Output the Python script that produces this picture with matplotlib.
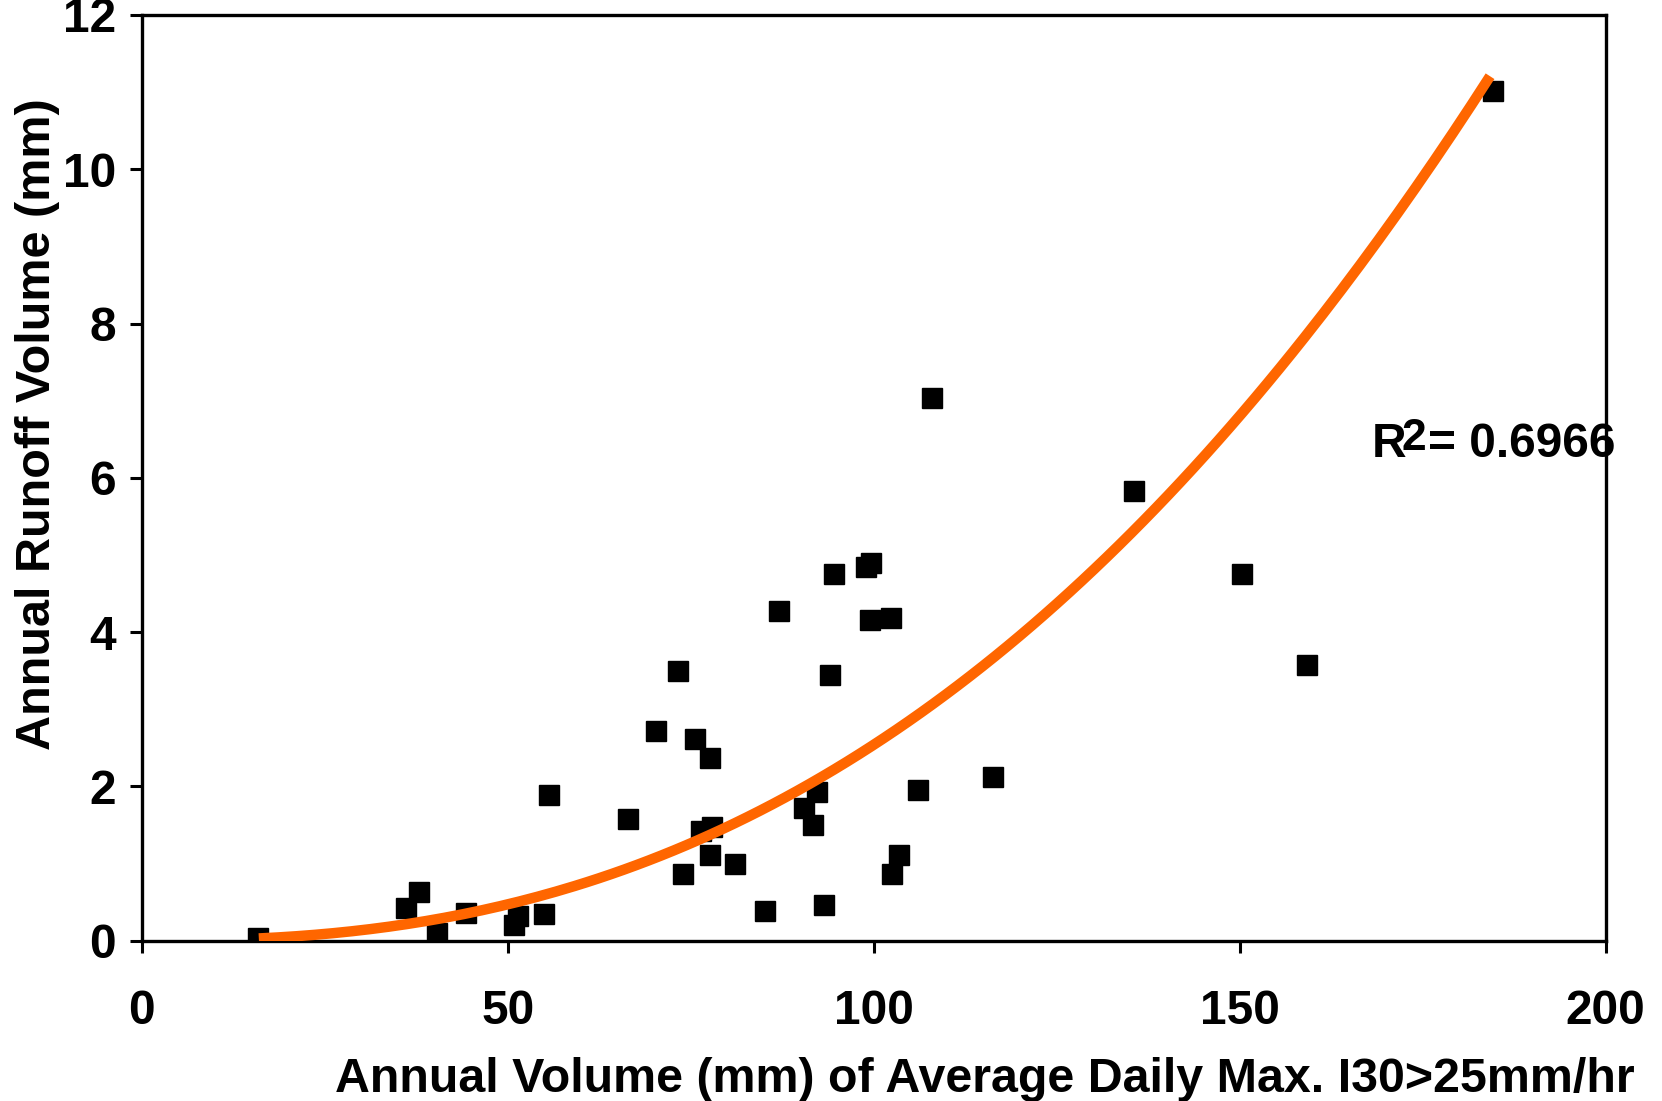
import numpy as np
import matplotlib
matplotlib.use("Agg")
import matplotlib.pyplot as plt

plt.rcParams['font.family'] = ['Liberation Sans', 'DejaVu Sans']
plt.rcParams['font.weight'] = 'bold'

# annual volume of average daily max I30 > 25 mm/hr (mm) vs annual runoff (mm)
volume = [15.9, 36.1, 37.9, 40.4, 44.3, 50.9, 51.4, 54.9, 55.6, 66.5,
          70.2, 73.3, 73.9, 75.6, 76.4, 77.9, 77.6, 77.6, 81.0, 85.2,
          87.0, 90.5, 91.7, 92.2, 93.2, 94.0, 94.6, 99.0, 99.6, 99.5,
          102.4, 102.5, 103.4, 106.1, 107.9, 116.3, 135.5, 150.3, 159.2, 184.6]
runoff = [0.03, 0.42, 0.63, 0.10, 0.36, 0.20, 0.32, 0.35, 1.89, 1.58,
          2.72, 3.49, 0.87, 2.61, 1.42, 1.47, 2.37, 1.11, 0.99, 0.385,
          4.27, 1.72, 1.50, 1.93, 0.46, 3.45, 4.76, 4.85, 4.90, 4.16,
          4.18, 0.87, 1.11, 1.95, 7.03, 2.12, 5.83, 4.76, 3.58, 11.01]

# power trendline y = a * x^b
trend_a = 3.506e-5
trend_b = 2.43
trend_x0, trend_x1 = 16.0, 184.2
r_squared = "0.6966"

fig = plt.figure(figsize=(16.62, 11.01), dpi=100)
ax = fig.add_axes([141.7 / 1662, 1 - 940.7 / 1101, 1464 / 1662, 925.7 / 1101])

ax.plot(volume, runoff, 's', color='black', markersize=14.5, zorder=3)

tx = np.linspace(trend_x0, trend_x1, 200)
ax.plot(tx, trend_a * tx ** trend_b, color='#FF6600', linewidth=7.5,
        solid_capstyle='butt', zorder=4)

ax.set_xlim(0, 200)
ax.set_ylim(0, 12)
ax.set_xticks([0, 50, 100, 150, 200])
ax.set_yticks([0, 2, 4, 6, 8, 10, 12])
ax.tick_params(direction='out', length=8.5, width=2.2, labelsize=34.5)
ax.tick_params(axis='x', pad=26)
ax.tick_params(axis='y', pad=10)
for s in ax.spines.values():
    s.set_linewidth(2.4)

ax.set_xlabel('Annual Volume (mm) of Average Daily Max. I30>25mm/hr',
              fontsize=34.8, fontweight='bold', ha='center', va='baseline')
ax.xaxis.set_label_coords(0.576, -0.163)
ax.set_ylabel('Annual Runoff Volume (mm)', fontsize=35, fontweight='bold',
              va='center')
ax.yaxis.set_label_coords(-0.071, 0.558)

# R squared label with a raised "2"
ax.annotate('R', (168.1, 6.27), fontsize=34.5, fontweight='bold', va='baseline')
ax.annotate('2', (168.1, 6.27), xytext=(21, 5), textcoords='offset points',
            fontsize=32, fontweight='bold', va='baseline')
ax.annotate('= ' + r_squared, (168.1, 6.27), xytext=(40, 0),
            textcoords='offset points', fontsize=34.5, fontweight='bold',
            va='baseline')

fig.savefig('out.png', dpi=100)
